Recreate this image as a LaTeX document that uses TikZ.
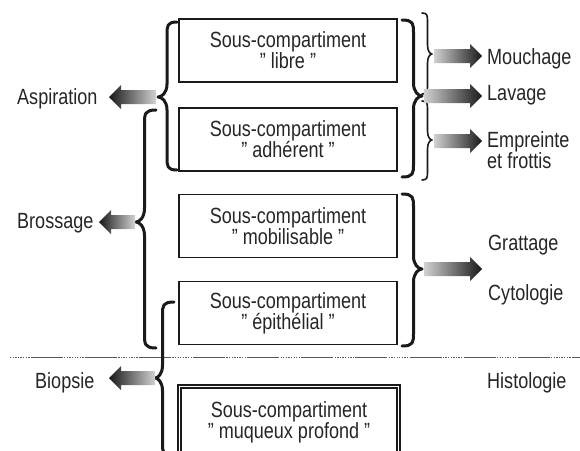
\documentclass[tikz,border=0pt]{standalone}
\usepackage{fontspec}
\setmainfont{Liberation Sans}[FakeStretch=0.82]
\usetikzlibrary{calc}
\definecolor{ink}{HTML}{1A1A1A}
\definecolor{txt}{HTML}{262626}
% curly brace drawn as a stroke
% #1 x of ends, #2 x of stem, #3 line width, #4 x of tip,
% #5 y top, #6 y tip, #7 y bottom, #8 curl radius
\newcommand\cbrace[8]{%
  \draw[ink, line width=#3, line cap=round, line join=round]
    ({#1},{#5}) .. controls ({#2},{#5}) and ({#2},{#5+0.3*#8}) .. ({#2},{#5+#8})
    -- ({#2},{#6-#8}) .. controls ({#2},{#6-0.3*#8}) and ({#4+0.4*(#2-#4)},{#6}) .. ({#4},{#6})
    .. controls ({#4+0.4*(#2-#4)},{#6}) and ({#2},{#6+0.3*#8}) .. ({#2},{#6+#8})
    -- ({#2},{#7-#8}) .. controls ({#2},{#7-0.3*#8}) and ({#2},{#7}) .. ({#1},{#7});}
% fat shaded arrow from tail #1 to head #2, #3 signed head length, #4 shading
\newcommand\fatarrow[4]{%
  \shade[#4] ($(#1)+(0,-7)$) -- ($(#2)+(#3,-7)$) -- ($(#2)+(#3,-12)$) -- (#2)
    -- ($(#2)+(#3,12)$) -- ($(#2)+(#3,7)$) -- ($(#1)+(0,7)$) -- cycle;}
\begin{document}
\begin{tikzpicture}[x=1pt,y=-1pt,
  box/.style={draw=ink, line width=1.6pt, minimum width=218pt, minimum height=63pt,
    inner sep=0pt, align=center, text=txt, font=\fontsize{22}{21}\selectfont},
  lab/.style={text=txt, inner sep=0pt, anchor=base west, font=\fontsize{22}{21}\selectfont},
  lefta/.style={left color=black!90, middle color=black!58, right color=black!18},
  righta/.style={left color=black!18, middle color=black!58, right color=black!90},
  sepline/.style={draw=black!65, line width=0.9pt,
    dash pattern=on 1.3pt off 1.3pt on 1.3pt off 1.3pt on 1.3pt off 1.3pt on 1.3pt off 1.3pt
      on 1.3pt off 1.3pt on 1.3pt off 1.3pt on 1.3pt off 1.3pt on 1.3pt off 1.3pt on 32pt off 1.3pt}
]
\useasboundingbox[fill=white] (0,0) rectangle (580,450);

% separator
\draw[sepline] (10,357) -- (580,357);

% boxes
\node[box] (libre) at (288,50.5) {Sous-compartiment\\" libre "};
\node[box] (adh) at (288,139.5) {Sous-compartiment\\" adhérent "};
\node[box] (mob) at (288,226) {Sous-compartiment\\" mobilisable "};
\node[box] (epi) at (288,313) {Sous-compartiment\\" épithélial "};
\node[box, line width=2.8pt, minimum width=222pt, minimum height=75pt] (muq) at (289,422.5)
  {Sous-compartiment\\" muqueux profond "};
\draw[ink, line width=1.3pt] ([xshift=4.5pt,yshift=-4.5pt]muq.north west) rectangle ([xshift=-4.5pt,yshift=4.5pt]muq.south east);

% labels
\node[lab] (asp) at (17,104) {Aspiration};
\node[lab] (bro) at (17,228) {Brossage};
\node[lab] (bio) at (35,388) {Biopsie};
\node[lab] (mou) at (487,64) {Mouchage};
\node[lab] (lav) at (487,100) {Lavage};
\node[lab] (emp) at (487,147) {Empreinte};
\node[lab] (frot) at (487,168) {et frottis};
\node[lab] (gra) at (488,250) {Grattage};
\node[lab] (cyt) at (488,300) {Cytologie};
\node[lab] (his) at (487,388) {Histologie};

% braces (left side)
\cbrace{177}{167}{3pt}{158}{22}{97}{170}{13}
\cbrace{156}{144.5}{3pt}{136}{110}{222}{348}{14}
\cbrace{174}{162.5}{3pt}{155}{302}{378}{456}{13}
% braces (right side)
\cbrace{402}{413.5}{3pt}{422}{20}{96}{177}{13}
\cbrace{422}{427.5}{1.6pt}{432}{13}{54}{94}{9}
\cbrace{422}{427.5}{1.6pt}{432}{101}{140}{180}{9}
\cbrace{402}{413.5}{3pt}{422}{194}{269}{346}{13}

% arrow end points
\coordinate (aspT) at (156,97);  \coordinate (aspH) at (109,97);
\coordinate (broT) at (135,222); \coordinate (broH) at (99,222);
\coordinate (bioT) at (155,378); \coordinate (bioH) at (109,378);
\coordinate (mouT) at (434,56);  \coordinate (mouH) at (482,56);
\coordinate (lavT) at (424,96);  \coordinate (lavH) at (482,96);
\coordinate (empT) at (434,141); \coordinate (empH) at (482,141);
\coordinate (graT) at (424,269); \coordinate (graH) at (482,269);

% arrows
\fatarrow{aspT}{aspH}{12}{lefta}
\fatarrow{broT}{broH}{12}{lefta}
\fatarrow{bioT}{bioH}{12}{lefta}
\fatarrow{mouT}{mouH}{-12}{righta}
\fatarrow{lavT}{lavH}{-12}{righta}
\fatarrow{empT}{empH}{-12}{righta}
\fatarrow{graT}{graH}{-12}{righta}
\end{tikzpicture}
\end{document}
